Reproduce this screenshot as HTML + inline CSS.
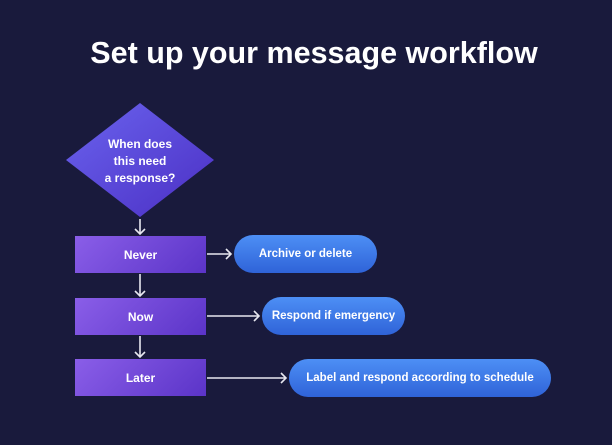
<!DOCTYPE html>
<html><head><style>
html,body{margin:0;padding:0;}
body{width:612px;height:445px;background:#191a3c;position:relative;overflow:hidden;font-family:"Liberation Sans",sans-serif;color:#fff;}
.t{position:absolute;left:0;width:628px;top:36px;text-align:center;font-size:30.5px;font-weight:bold;}
.b{position:absolute;left:75px;width:131px;height:37px;background:linear-gradient(135deg,#8a5ee8,#5b34c8);display:flex;align-items:center;justify-content:center;font-size:12px;font-weight:bold;}
.p{position:absolute;height:38px;border-radius:19px;background:linear-gradient(180deg,#4d8ff5,#2f63d8);display:flex;align-items:center;justify-content:center;font-size:11.5px;font-weight:bold;}
.dt{position:absolute;left:90px;width:100px;top:136px;text-align:center;font-size:12px;font-weight:bold;line-height:17px;}
</style></head><body>
<div class="t">Set up your message workflow</div>
<svg width="612" height="445" style="position:absolute;left:0;top:0">
<defs><linearGradient id="g" x1="0" y1="0" x2="1" y2="1"><stop offset="0" stop-color="#6a63ee"/><stop offset="1" stop-color="#4b2fc4"/></linearGradient></defs>
<polygon points="140,103 214,160 140,217 66,160" fill="url(#g)"/>
<g stroke="#e8e8f0" stroke-width="1.6" fill="none">
<line x1="140" y1="219" x2="140" y2="234"/><polyline points="135,229 140,234 145,229"/>
<line x1="140" y1="274" x2="140" y2="296"/><polyline points="135,291 140,296 145,291"/>
<line x1="140" y1="336" x2="140" y2="357"/><polyline points="135,352 140,357 145,352"/>
<line x1="207" y1="254" x2="231" y2="254"/><polyline points="226,249 231,254 226,259"/>
<line x1="207" y1="316" x2="259" y2="316"/><polyline points="254,311 259,316 254,321"/>
<line x1="207" y1="378" x2="286" y2="378"/><polyline points="281,373 286,378 281,383"/>
</g></svg>
<div class="dt">When does<br>this need<br>a response?</div>
<div class="b" style="top:236px">Never</div>
<div class="b" style="top:298px">Now</div>
<div class="b" style="top:359px">Later</div>
<div class="p" style="left:234px;width:143px;top:235px">Archive or delete</div>
<div class="p" style="left:262px;width:143px;top:297px">Respond if emergency</div>
<div class="p" style="left:289px;width:262px;top:359px">Label and respond according to schedule</div>
</body></html>
